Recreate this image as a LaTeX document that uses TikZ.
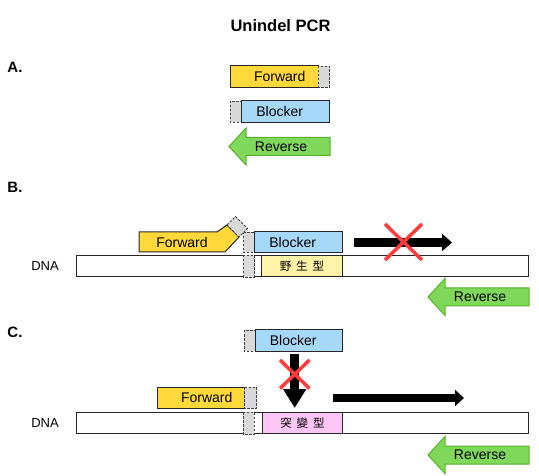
\documentclass[tikz,border=0pt]{standalone}
\usepackage{fontspec}
\setmainfont{Liberation Sans}
\newfontfamily\cjk{Noto Sans CJK TC}
\usetikzlibrary{arrows.meta, positioning}

\definecolor{fwdyellow}{RGB}{255,216,58}
\definecolor{blkblue}{RGB}{166,216,250}
\definecolor{taggray}{RGB}{217,217,217}
\definecolor{revgreen}{RGB}{127,216,90}
\definecolor{revedge}{RGB}{88,176,44}
\definecolor{wtyellow}{RGB}{255,243,168}
\definecolor{mutpink}{RGB}{255,198,245}
\definecolor{nored}{RGB}{255,59,59}

\begin{document}
\begin{tikzpicture}[x=1pt,y=-1pt,
	lbl/.style={font=\fontsize{14}{16}\selectfont, inner sep=0pt},
	part/.style={font=\fontsize{15}{18}\selectfont\bfseries, inner sep=0pt},
	box/.style={lbl, anchor=north west, minimum height=21pt},
	edge/.style={draw=black!85, line width=1pt},
	tag/.style={draw=black!75, fill=taggray, line width=0.9pt, dash pattern=on 2.5pt off 1.5pt},
	rev/.style={draw=revedge, fill=revgreen, line width=1pt, line join=miter},
	push/.style={line width=8.5pt, -{Triangle[length=10pt,width=17pt]}},
	nope/.style={nored, line width=3.5pt}]
	\useasboundingbox (0,0) rectangle (539,476);
	
	\node[font=\fontsize{16.5}{20}\selectfont\bfseries] (title) at (280.5,26) {Unindel PCR};
	\node[part] (partA) at (15,67) {A.};
	\node[part] (partB) at (15,187) {B.};
	\node[part] (partC) at (15,332) {C.};
	
	% A. the three primers
	\node[box, fill=fwdyellow, minimum width=99pt] (fwdA) at (230,66) {Forward};
	\draw[edge] (fwdA.north west) rectangle ([xshift=-11pt]fwdA.south east);
	\draw[tag] ([xshift=-11pt]fwdA.north east) rectangle (fwdA.south east);
	\node[box, fill=blkblue, minimum width=99pt] (blkA) at (230,101) {Blocker};
	\draw[tag] (blkA.north west) rectangle ([xshift=11pt]blkA.south west);
	\draw[edge] ([xshift=11pt]blkA.north west) rectangle (blkA.south east);
	
	% reverse primers
	\foreach \x/\y/\n in {229/146.5/A, 428/297/B, 428/455/C} {
		\draw[rev] (\x,\y) -- ++(17,-18.5) -- ++(0,9.5) -- ++(84,0) -- ++(0,18) -- ++(-84,0) -- ++(0,9.5) -- cycle;
		\node[lbl] (rev\n) at (\x+52,\y) {Reverse};
	}
	
	% B. wild type
	\node[box, draw=black!85, line width=1pt, fill=white, minimum width=452pt] (dnaB) at (76,255) {};
	\node[lbl, left=17pt of dnaB, font=\fontsize{13}{15}\selectfont] (dnalblB) {DNA};
	\node[box, edge, fill=wtyellow, minimum width=81pt, font=\fontsize{11.5}{14}\selectfont\cjk] (wtB) at (261,255) {野\hspace{5pt}生\hspace{5pt}型};
	\draw[tag] ([xshift=167pt]dnaB.north west) rectangle ([xshift=178pt]dnaB.south west);
	\node[box, fill=blkblue, minimum width=99pt, minimum height=20pt] (blkB) at (243,232) {Blocker};
	\draw[tag] (blkB.north west) rectangle ([xshift=11pt]blkB.south west);
	\draw[edge] ([xshift=11pt]blkB.north west) rectangle (blkB.south east);
	\draw[edge, fill=fwdyellow, line join=miter] (139,232) -- (217,232) -- (227,225) -- (239,237) -- (225,252) -- (139,252) -- cycle;
	\draw[tag] (227,225) -- (235.5,216.5) -- (247.5,228.5) -- (239,237) -- cycle;
	\node[lbl] (fwdB) at (182,242) {Forward};
	\coordinate (pushB1) at (354,242.5);
	\coordinate (pushB2) at (452,242.5);
	\draw[push] (pushB1) -- (pushB2);
	\draw[nope] (385,224) -- (422,260);
	\draw[nope] (422,224) -- (385,260);
	
	% C. mutant
	\node[box, draw=black!85, line width=1pt, fill=white, minimum width=452pt] (dnaC) at (76,412) {};
	\node[lbl, left=17pt of dnaC, font=\fontsize{13}{15}\selectfont] (dnalblC) {DNA};
	\node[box, edge, fill=mutpink, minimum width=80pt, font=\fontsize{11.5}{14}\selectfont\cjk] (mutC) at (262,412) {突\hspace{5pt}變\hspace{5pt}型};
	\draw[tag] ([xshift=167pt]dnaC.north west) rectangle ([xshift=178pt]dnaC.south west);
	\node[box, fill=blkblue, minimum width=98pt] (blkC) at (244,330) {Blocker};
	\draw[tag] (blkC.north west) rectangle ([xshift=11pt]blkC.south west);
	\draw[edge] ([xshift=11pt]blkC.north west) rectangle (blkC.south east);
	\node[box, fill=fwdyellow, minimum width=99pt] (fwdC) at (157,387) {Forward};
	\draw[edge] (fwdC.north west) rectangle ([xshift=-12pt]fwdC.south east);
	\draw[tag] ([xshift=-12pt]fwdC.north east) rectangle (fwdC.south east);
	\coordinate (dropC1) at (294.7,354);
	\coordinate (dropC2) at (294.7,408);
	\draw[push, line width=9pt, -{Triangle[length=19pt,width=22pt]}] (dropC1) -- (dropC2);
	\draw[nope] (280,360) -- (309.5,388.5);
	\draw[nope] (309.5,360) -- (280,388.5);
	\coordinate (pushC1) at (333,398);
	\coordinate (pushC2) at (464,398);
	\draw[push, -{Triangle[length=9pt,width=16pt]}] (pushC1) -- (pushC2);
\end{tikzpicture}
\end{document}
